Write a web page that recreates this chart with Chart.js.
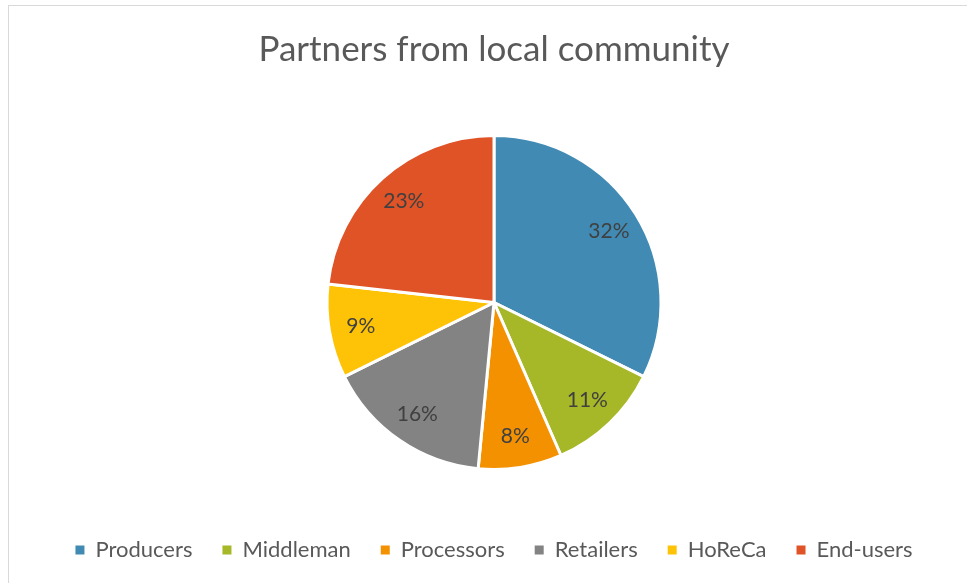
<!DOCTYPE html>
<html>
<head>
<meta charset="utf-8">
<script src="https://cdn.jsdelivr.net/npm/chart.js@4/dist/chart.umd.min.js"></script>
<style>
  html, body { margin: 0; padding: 0; background: #fff; }
  .card {
    position: absolute; left: 8px; top: 5px;
    width: 970px; height: 590px;
    border: 1px solid #d9d9d9;
    background: #fff;
  }
</style>
</head>
<body>
<div class="card"><canvas id="pie"></canvas></div>
<script>
const labels = ['Producers', 'Middleman', 'Processors', 'Retailers', 'HoReCa', 'End-users'];
const shares = [32, 11, 8, 16, 9, 23];
const colors = ['#418AB3', '#A6B727', '#F49100', '#838383', '#FEC306', '#DF5327'];

const FONT = "Lato, 'Open Sans', sans-serif";

// percent labels inside each slice
const sliceLabels = {
  id: 'sliceLabels',
  afterDatasetsDraw(chart) {
    const ctx = chart.ctx;
    const meta = chart.getDatasetMeta(0);
    const values = chart.data.datasets[0].data;
    ctx.save();
    ctx.font = '21px ' + FONT;
    ctx.fillStyle = '#404040';
    ctx.textAlign = 'center';
    ctx.textBaseline = 'middle';
    meta.data.forEach((arc, i) => {
      const { x, y, startAngle, endAngle, outerRadius } = arc.getProps(['x', 'y', 'startAngle', 'endAngle', 'outerRadius'], true);
      const mid = (startAngle + endAngle) / 2;
      const r = outerRadius * 0.81;
      ctx.fillText(values[i] + '%', x + Math.cos(mid) * r, y + Math.sin(mid) * r);
    });
    ctx.restore();
  }
};

const defaultLabels = Chart.overrides.pie.plugins.legend.labels.generateLabels;

new Chart(document.getElementById('pie'), {
  type: 'pie',
  data: {
    labels,
    datasets: [{
      data: shares,
      backgroundColor: colors,
      borderColor: '#ffffff',
      borderWidth: 3,
      radius: 167
    }]
  },
  options: {
    responsive: true,
    maintainAspectRatio: false,
    animation: false,
    layout: { padding: { bottom: 25 } },
    plugins: {
      title: {
        display: true,
        text: 'Partners from local community',
        color: '#595959',
        font: { family: FONT, size: 35, weight: 'normal' },
        padding: { top: 23, bottom: 25 }
      },
      legend: {
        position: 'bottom',
        labels: {
          boxWidth: 9,
          boxHeight: 9,
          padding: 30,
          color: '#595959',
          font: { family: FONT, size: 22 },
          // plain filled squares, no white slice border around them
          generateLabels: (chart) => defaultLabels(chart).map(l => ({ ...l, lineWidth: 0 }))
        }
      },
      tooltip: { enabled: false }
    }
  },
  plugins: [sliceLabels]
});
</script>
</body>
</html>
